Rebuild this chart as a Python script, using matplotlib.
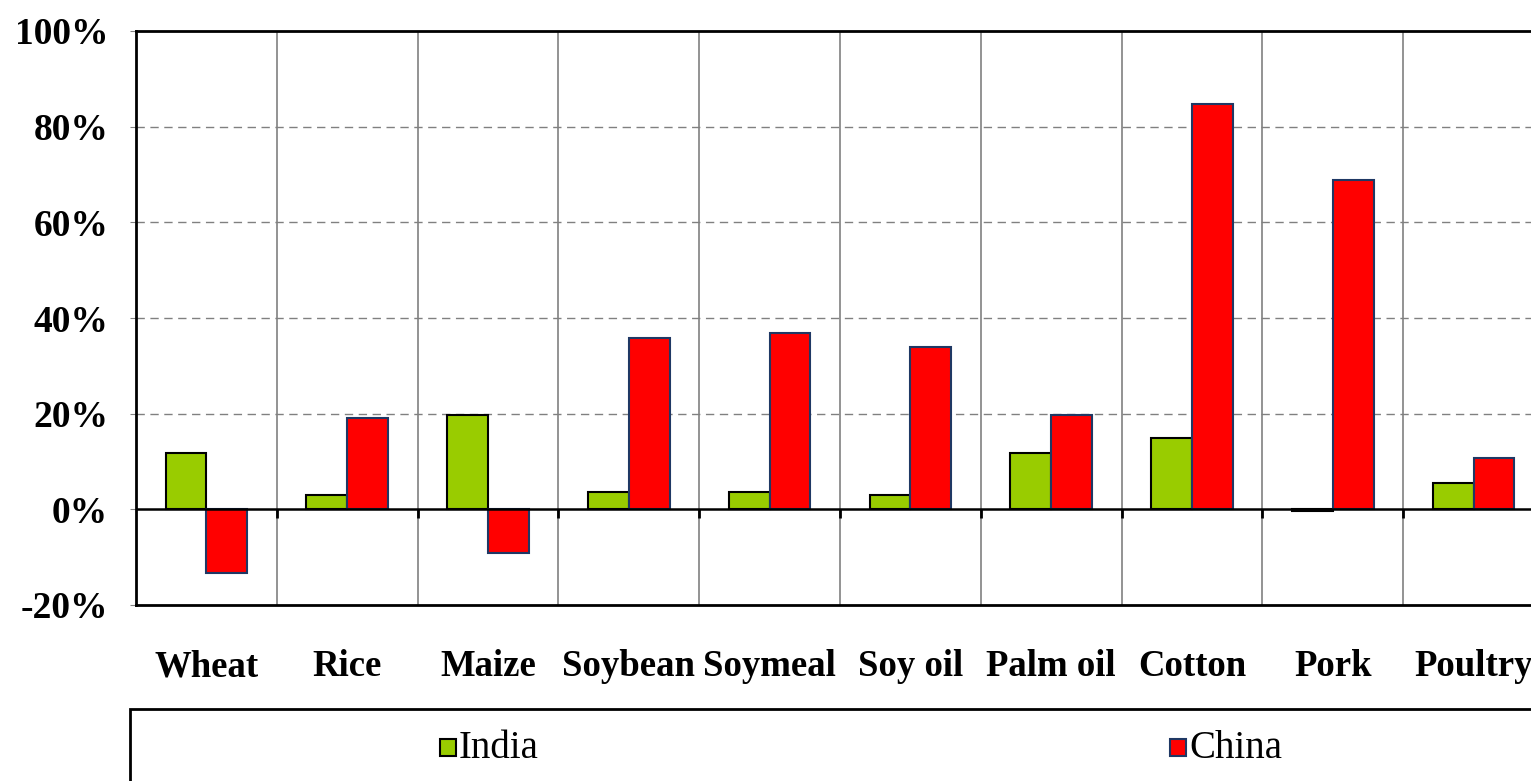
import numpy as np
import matplotlib.pyplot as plt
from matplotlib.patches import Rectangle

categories = ["Wheat", "Rice", "Maize", "Soybean", "Soymeal", "Soy oil",
              "Palm oil", "Cotton", "Pork", "Poultry"]
india = [11.7, 2.9, 19.8, 3.6, 3.6, 2.9, 11.7, 15.0, -0.4, 5.6]
china = [-13.3, 19.0, -9.2, 35.8, 36.9, 34.0, 19.8, 84.8, 68.8, 10.8]
yticks = [-20, 0, 20, 40, 60, 80, 100]

plt.rcParams['font.family'] = ['Liberation Serif']

W, H = 1531, 781
fig = plt.figure(figsize=(W / 100, H / 100), dpi=100)
ax = fig.add_axes([136 / W, 1 - 605 / H, 1408 / W, 574 / H])

x = np.arange(len(categories))
bw = 0.29
ax.bar(x - bw / 2, india, bw, color='#99cc00', edgecolor='black', linewidth=1.5, zorder=3)
ax.bar(x + bw / 2, china, bw, color='#ff0000', edgecolor='#1f3864', linewidth=1.5, zorder=3)

ax.set_xlim(-0.5, len(categories) - 0.5)
ax.set_ylim(-20, 100)
ax.set_yticks(yticks)
ax.set_yticklabels([f"{v}%" for v in yticks], fontsize=27, fontweight='bold')
ax.tick_params(axis='y', length=4, pad=16, color='gray')

ax.set_xticks(x)
ax.set_xticklabels(categories, fontsize=26.5, fontweight='bold')
ax.tick_params(axis='x', length=0, pad=32)

# vertical separators between categories
ax.set_xticks(x[:-1] + 0.5, minor=True)
ax.tick_params(axis='x', which='minor', length=0)
ax.grid(axis='x', which='minor', color='#808080', linewidth=1.2, zorder=1)

# dashed horizontal grid
for v in [20, 40, 60, 80]:
    ax.axhline(v, color='#808080', linestyle=(0, (6, 4)), linewidth=1, zorder=1)
ax.axhline(0, color='black', linewidth=1.8, zorder=4)
ax.vlines(x[:-1] + 0.5, -1.8, 0, color='black', linewidth=2, zorder=4)

for s in ['left', 'top', 'bottom']:
    ax.spines[s].set_linewidth(2)
ax.spines['right'].set_visible(False)

# legend box
fig.patches.append(Rectangle((130 / W, -0.05), 1420 / W, 0.05 + 1 - 709 / H,
                             transform=fig.transFigure, fill=False,
                             edgecolor='black', linewidth=2))
for name, col, ec, px in [("India", '#99cc00', 'black', 440),
                          ("China", '#ff0000', '#1f3864', 1170)]:
    fig.patches.append(Rectangle((px / W, 1 - 756 / H), 16 / W, 17 / H,
                                 transform=fig.transFigure, facecolor=col,
                                 edgecolor=ec, linewidth=1.5))
    fig.text((px + 19) / W, 1 - 748 / H, name, fontsize=28, va='center', ha='left')

fig.savefig("out.png", dpi=100)
